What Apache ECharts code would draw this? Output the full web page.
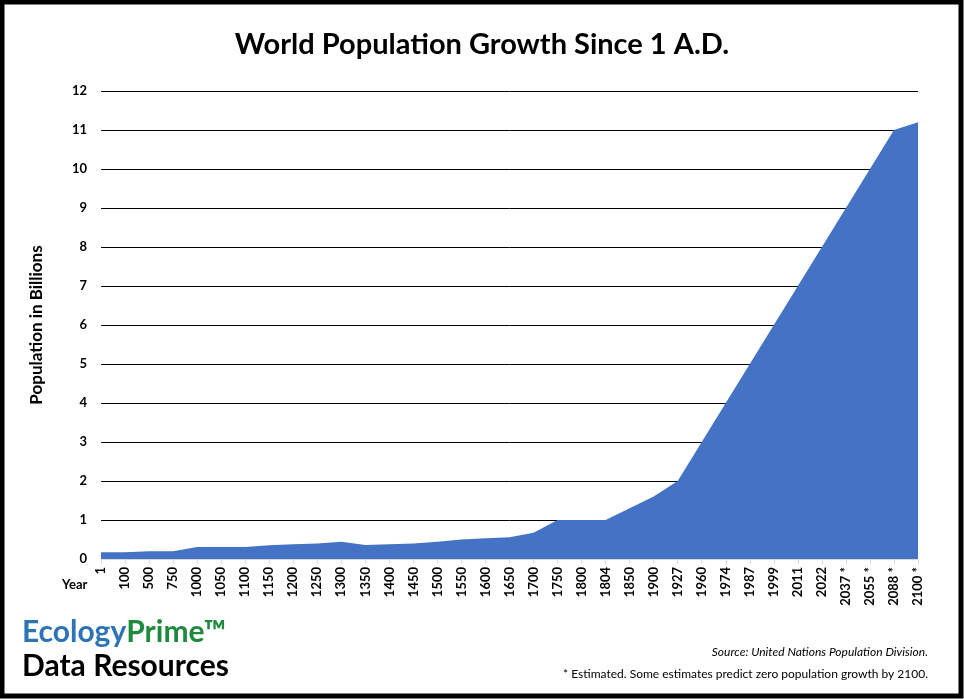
<!DOCTYPE html>
<html>
<head>
<meta charset="utf-8">
<script src="https://cdn.jsdelivr.net/npm/echarts@6/dist/echarts.min.js"></script>
<style>
  html, body { margin: 0; padding: 0; background: #fff; }
  #chart { width: 964px; height: 699px; }
</style>
</head>
<body>
<div id="chart"></div>
<script>
// years on the x axis (* = estimate)
var years = ['1', '100', '500', '750', '1000', '1050', '1100', '1150', '1200', '1250',
  '1300', '1350', '1400', '1450', '1500', '1550', '1600', '1650', '1700', '1750',
  '1800', '1804', '1850', '1900', '1927', '1960', '1974', '1987', '1999', '2011',
  '2022', '2037 *', '2055 *', '2088 *', '2100 *'];

// population, billions
var population = [0.17, 0.17, 0.2, 0.2, 0.31, 0.31, 0.31, 0.35, 0.38, 0.4,
  0.44, 0.36, 0.38, 0.4, 0.44, 0.5, 0.53, 0.56, 0.67, 1,
  1, 1, 1.3, 1.6, 2, 3, 4, 5, 6, 7,
  8, 9, 10, 11, 11.2];

var yTicks = [0, 12, 1]; // min, max, step

var font = 'Lato, "Open Sans", sans-serif';

var app = echarts.init(document.getElementById('chart'));

var option = {
  backgroundColor: '#fff',
  animation: false,
  title: {
    text: 'World Population Growth Since 1 A.D.',
    left: 'center',
    top: 25,
    textStyle: { fontFamily: font, fontWeight: 'bold', fontSize: 29, color: '#000' }
  },
  grid: { left: 101, right: 46, top: 91, bottom: 140 },
  xAxis: {
    type: 'category',
    data: years,
    boundaryGap: false,
    axisLine: { lineStyle: { color: '#d9d9d9' } },
    axisTick: { show: true, length: 5, lineStyle: { color: '#d9d9d9' } },
    axisLabel: {
      interval: 0,
      rotate: 90,
      margin: 8,
      color: '#000',
      fontFamily: font,
      fontWeight: 'bold',
      fontSize: 13
    }
  },
  yAxis: {
    type: 'value',
    min: yTicks[0],
    max: yTicks[1],
    interval: yTicks[2],
    name: 'Population in Billions',
    nameLocation: 'middle',
    nameGap: 56,
    nameTextStyle: { fontFamily: font, fontWeight: 'bold', fontSize: 17, color: '#000' },
    axisLine: { show: false },
    axisTick: { show: false },
    axisLabel: { color: '#000', fontFamily: font, fontWeight: 'bold', fontSize: 13, margin: 14 },
    splitLine: { lineStyle: { color: '#000', width: 1 } }
  },
  series: [{
    type: 'line',
    data: population,
    symbol: 'none',
    lineStyle: { width: 0 },
    areaStyle: { color: '#4472C4', opacity: 1 }
  }],
  graphic: [
    {
      type: 'rect',
      shape: { x: 2, y: 2, width: 959, height: 694 },
      style: { fill: 'none', stroke: '#000', lineWidth: 5 },
      silent: true
    },
    {
      type: 'text',
      left: 62,
      top: 578,
      style: { text: 'Year', fontFamily: font, fontWeight: 'bold', fontSize: 13, fill: '#000' }
    },
    {
      type: 'text',
      left: 22,
      top: 617,
      style: {
        text: '{a|Ecology}{b|Prime™}',
        rich: {
          a: { fontFamily: font, fontSize: 30, fill: '#2E74B5', fontWeight: 'bold' },
          b: { fontFamily: font, fontSize: 30, fill: '#1F8A3F', fontWeight: 'bold' }
        }
      }
    },
    {
      type: 'text',
      left: 22,
      top: 651,
      style: { text: 'Data Resources', fontFamily: font, fontWeight: 'bold', fontSize: 30, fill: '#000' }
    },
    {
      type: 'text',
      right: 36,
      top: 646,
      style: { text: 'Source: United Nations Population Division.', fontFamily: font, fontStyle: 'italic', fontSize: 12, fill: '#000' }
    },
    {
      type: 'text',
      right: 36,
      top: 668,
      style: { text: '* Estimated. Some estimates predict zero population growth by 2100.', fontFamily: font, fontSize: 12, fill: '#000' }
    }
  ]
};

app.setOption(option);
</script>
</body>
</html>
